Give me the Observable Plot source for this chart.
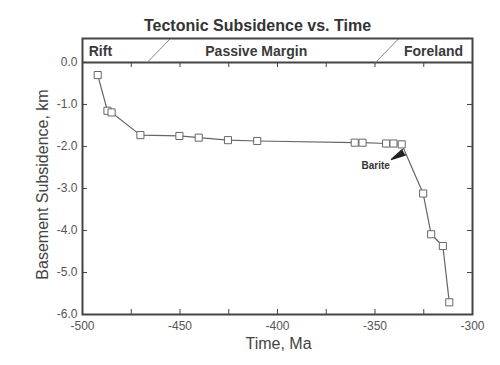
<!DOCTYPE html>
<html><head><meta charset="utf-8">
<script src="https://cdn.jsdelivr.net/npm/d3@7"></script>
<script src="https://cdn.jsdelivr.net/npm/@observablehq/plot@0.6"></script>
<style>body{margin:0;background:#fff;}</style>
</head><body><div id="chart"></div>
<script>
// Data
const timeMa = [-492.2, -487.2, -485.1, -470.3, -450.3, -440.4, -425.4, -410.4, -360.4, -356.4, -344.3, -340.5, -336.3, -325.3, -321.2, -315.2, -311.9];
const subsidenceKm = [-0.30, -1.15, -1.19, -1.73, -1.75, -1.79, -1.85, -1.87, -1.91, -1.91, -1.93, -1.93, -1.95, -3.12, -4.09, -4.37, -5.71];
const xTicks = [-500, -475, -450, -425, -400, -375, -350, -325, -300];
const xLabelTicks = [-500, -450, -400, -350, -300];
const yTicks = [0, -1, -2, -3, -4, -5, -6];
const eraNames = ["Rift", "Passive Margin", "Foreland"];
const eraLabelX = [-496.8, -410.9, -304.8];
const eraBoundBottom = [-466.8, -349.7];
const eraBoundTop = [-454.9, -337.8];
const headerTop = 0.57;
const headerLabelY = 0.25;
const bariteTime = -336.3, bariteDepth = -1.95;

const data = timeMa.map((t, i) => ({t, d: subsidenceKm[i]}));
const bounds = eraBoundBottom.map((b, i) => ({b, t: eraBoundTop[i]}));

const ink = "#444";
const chart = Plot.plot({
  width: 500, height: 365,
  marginLeft: 82, marginRight: 28, marginTop: 38, marginBottom: 51,
  x: {domain: [-500, -300]},
  y: {domain: [-6, headerTop]},
  style: {fontFamily: "'Liberation Sans', Arial, Helvetica, sans-serif", background: "#fff", color: ink},
  marks: [
    // inward ticks
    Plot.tickY(yTicks, {y: d => d, insetRight: 385, stroke: ink, strokeWidth: 1}),
    Plot.tickY(yTicks, {y: d => d, insetLeft: 385, stroke: ink, strokeWidth: 1}),
    Plot.tickX(xTicks, {x: d => d, insetTop: 271, stroke: ink, strokeWidth: 1}),
    Plot.tickX(xTicks, {x: d => d, insetTop: 24, insetBottom: 247, stroke: ink, strokeWidth: 1}),
    // header
    Plot.ruleY([0], {stroke: ink, strokeWidth: 2}),
    Plot.link(bounds, {x1: "b", y1: 0, x2: "t", y2: headerTop, stroke: "#888", strokeWidth: 1}),
    Plot.text([eraNames[0]], {x: eraLabelX[0], y: headerLabelY, textAnchor: "start", fontSize: 14, fontWeight: "bold", fill: "#3a3a3a"}),
    Plot.text([eraNames[1]], {x: eraLabelX[1], y: headerLabelY, textAnchor: "middle", fontSize: 14, fontWeight: "bold", fill: "#3a3a3a"}),
    Plot.text([eraNames[2]], {x: eraLabelX[2], y: headerLabelY, textAnchor: "end", fontSize: 14, fontWeight: "bold", fill: "#3a3a3a"}),
    // axes labels
    Plot.axisY({ticks: yTicks, tickSize: 0, tickPadding: 5, tickFormat: d => d.toFixed(1), label: null, fontSize: 12, fill: "#555"}),
    Plot.axisX({ticks: xLabelTicks, tickSize: 0, tickPadding: 7, tickFormat: d => String(d), label: null, fontSize: 12, fill: "#555"}),
    Plot.text(["Basement Subsidence, km"], {frameAnchor: "left", textAnchor: "middle", lineAnchor: "middle", rotate: -90, dx: -40, dy: 8, fontSize: 16, fill: ink}),
    Plot.text(["Time, Ma"], {frameAnchor: "bottom", lineAnchor: "middle", dy: 29, dx: 1, fontSize: 16, fill: ink}),
    Plot.text(["Tectonic Subsidence vs. Time"], {frameAnchor: "top", lineAnchor: "middle", dy: -13, dx: -20, fontSize: 16, fontWeight: "bold", fill: "#333"}),
    // data
    Plot.line(data, {x: "t", y: "d", stroke: "#666", strokeWidth: 1.2}),
    Plot.dot(data, {x: "t", y: "d", symbol: "square", r: 4, stroke: "#666", fill: "white", strokeWidth: 1}),
    // annotation
    Plot.text(["Barite"], {x: bariteTime, y: bariteDepth, dx: -26, dy: 21, fontSize: 10, fontWeight: "bold", fill: "#333"}),
    Plot.vector([0], {x: bariteTime, y: bariteDepth, dx: 2, dy: 8, rotate: 240, length: 14, shape: "spike", r: 3, anchor: "start", fill: "#222", stroke: "#222"}),
    Plot.frame({stroke: ink, strokeWidth: 2})
  ]
});
document.getElementById("chart").appendChild(chart);
</script>
</body></html>
